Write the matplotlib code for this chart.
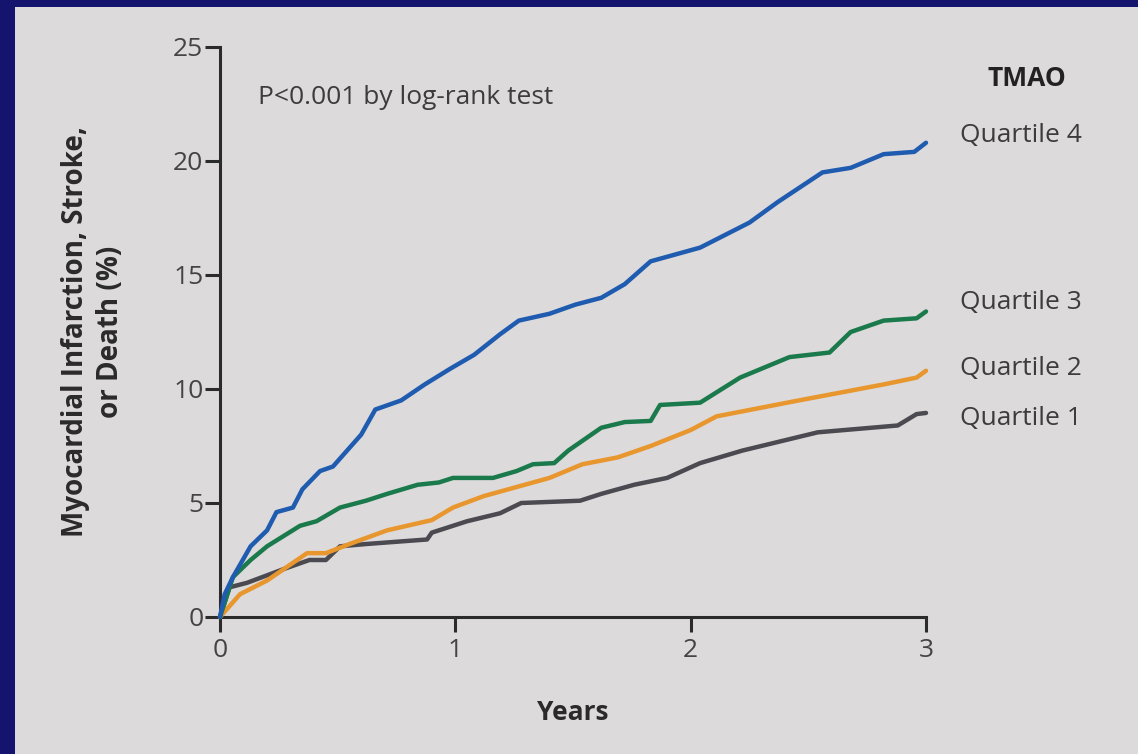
import matplotlib
matplotlib.use("Agg")
import matplotlib.pyplot as plt
from matplotlib.patches import Rectangle

plt.rcParams['font.family'] = ['Open Sans', 'DejaVu Sans']

# Cumulative incidence (%) by TMAO quartile, years of follow-up
q4_years = [0, 0.02, 0.055, 0.13, 0.20, 0.24, 0.31, 0.35, 0.425, 0.48, 0.54, 0.60,
            0.66, 0.77, 0.87, 0.98, 1.08, 1.19, 1.27, 1.40, 1.51, 1.62, 1.72, 1.83,
            2.04, 2.25, 2.37, 2.56, 2.68, 2.82, 2.95, 3.0]
q4_pct = [0, 1.0, 1.75, 3.1, 3.8, 4.6, 4.8, 5.6, 6.4, 6.6, 7.3, 8.0,
          9.1, 9.5, 10.2, 10.9, 11.5, 12.4, 13.0, 13.3, 13.7, 14.0, 14.6, 15.6,
          16.2, 17.3, 18.2, 19.5, 19.7, 20.3, 20.4, 20.8]

q3_years = [0, 0.055, 0.13, 0.20, 0.34, 0.41, 0.51, 0.62, 0.71, 0.84, 0.93, 0.99,
            1.16, 1.26, 1.33, 1.42, 1.48, 1.62, 1.72, 1.83, 1.87, 2.04, 2.21, 2.42,
            2.59, 2.68, 2.82, 2.96, 3.0]
q3_pct = [0, 1.75, 2.5, 3.1, 4.0, 4.2, 4.8, 5.1, 5.4, 5.8, 5.9, 6.1,
          6.1, 6.4, 6.7, 6.75, 7.3, 8.3, 8.55, 8.6, 9.3, 9.4, 10.5, 11.4,
          11.6, 12.5, 13.0, 13.1, 13.4]

q2_years = [0, 0.085, 0.20, 0.37, 0.45, 0.55, 0.71, 0.90, 0.99, 1.12, 1.26, 1.40,
            1.54, 1.69, 1.83, 2.00, 2.11, 2.46, 2.82, 2.96, 3.0]
q2_pct = [0, 1.0, 1.6, 2.8, 2.8, 3.2, 3.8, 4.25, 4.8, 5.3, 5.7, 6.1,
          6.7, 7.0, 7.5, 8.2, 8.8, 9.5, 10.2, 10.5, 10.8]

q1_years = [0, 0.04, 0.115, 0.27, 0.38, 0.45, 0.51, 0.62, 0.88, 0.90, 1.05, 1.19,
            1.28, 1.53, 1.62, 1.76, 1.90, 2.04, 2.22, 2.54, 2.88, 2.96, 3.0]
q1_pct = [0, 1.3, 1.5, 2.1, 2.5, 2.5, 3.1, 3.2, 3.4, 3.7, 4.2, 4.55,
          5.0, 5.1, 5.4, 5.8, 6.1, 6.75, 7.3, 8.1, 8.4, 8.9, 8.95]

series_names = ["Quartile 4", "Quartile 3", "Quartile 2", "Quartile 1"]
series_colors = ["#1f5cb0", "#1b7a4c", "#e8962e", "#4b4a50"]
label_y = [21.1, 13.8, 10.9, 8.7]

x_ticks = [0, 1, 2, 3]
y_ticks = [0, 5, 10, 15, 20, 25]

fig = plt.figure(figsize=(11.38, 7.54), dpi=100)
fig.patch.set_facecolor("#dddadb")

# navy frame along the left and top edges
frame = "#14146e"
fig.add_artist(Rectangle((0, 0), 15 / 1138, 1, transform=fig.transFigure,
                         facecolor=frame, edgecolor="none", zorder=-5))
fig.add_artist(Rectangle((0, 1 - 7 / 754), 1, 7 / 754, transform=fig.transFigure,
                         facecolor=frame, edgecolor="none", zorder=-5))

ax = fig.add_axes([220 / 1138, 1 - 617 / 754, 706 / 1138, 570 / 754])
ax.set_facecolor("none")

data = [(q4_years, q4_pct), (q3_years, q3_pct), (q2_years, q2_pct), (q1_years, q1_pct)]
for (t, v), name, color, ly in zip(data[::-1], series_names[::-1],
                                   series_colors[::-1], label_y[::-1]):
    ax.plot(t, v, color=color, lw=3.2, solid_joinstyle="round",
            solid_capstyle="round", clip_on=False, zorder=3)
    ax.text(3.145, ly, name, fontsize=19, color="#3c3c3c", va="center", ha="left",
            clip_on=False)

ax.set_xlim(0, 3)
ax.set_ylim(0, 25)
ax.set_xticks(x_ticks)
ax.set_yticks(y_ticks)
ax.set_xticklabels([str(x) for x in x_ticks])
ax.set_yticklabels([str(y) for y in y_ticks])

for side in ("top", "right"):
    ax.spines[side].set_visible(False)
for side in ("left", "bottom"):
    ax.spines[side].set_color("#2b2b2b")
    ax.spines[side].set_linewidth(2.2)

ax.tick_params(axis="both", direction="out", length=11, width=2.2, color="#2b2b2b",
               labelsize=19, labelcolor="#444444")
ax.tick_params(axis="y", pad=1)
ax.tick_params(axis="x", pad=4)

ax.text(0.16, 22.8, "P<0.001 by log-rank test", fontsize=19, color="#3c3c3c",
        va="center", ha="left")
ax.text(3.43, 23.6, "TMAO", fontsize=19, fontweight="bold", color="#222222",
        va="center", ha="center", clip_on=False)

fig.text(93 / 1138, 1 - 332 / 754, "Myocardial Infarction, Stroke,\nor Death (%)",
         rotation=90, fontsize=20, fontweight="bold", color="#2a2a2a",
         ha="center", va="center", multialignment="center", linespacing=1.25)
fig.text(573 / 1138, 1 - 713 / 754, "Years", fontsize=19, fontweight="bold",
         color="#2a2a2a", ha="center", va="center")

fig.savefig("out.png", dpi=100, facecolor=fig.get_facecolor())
